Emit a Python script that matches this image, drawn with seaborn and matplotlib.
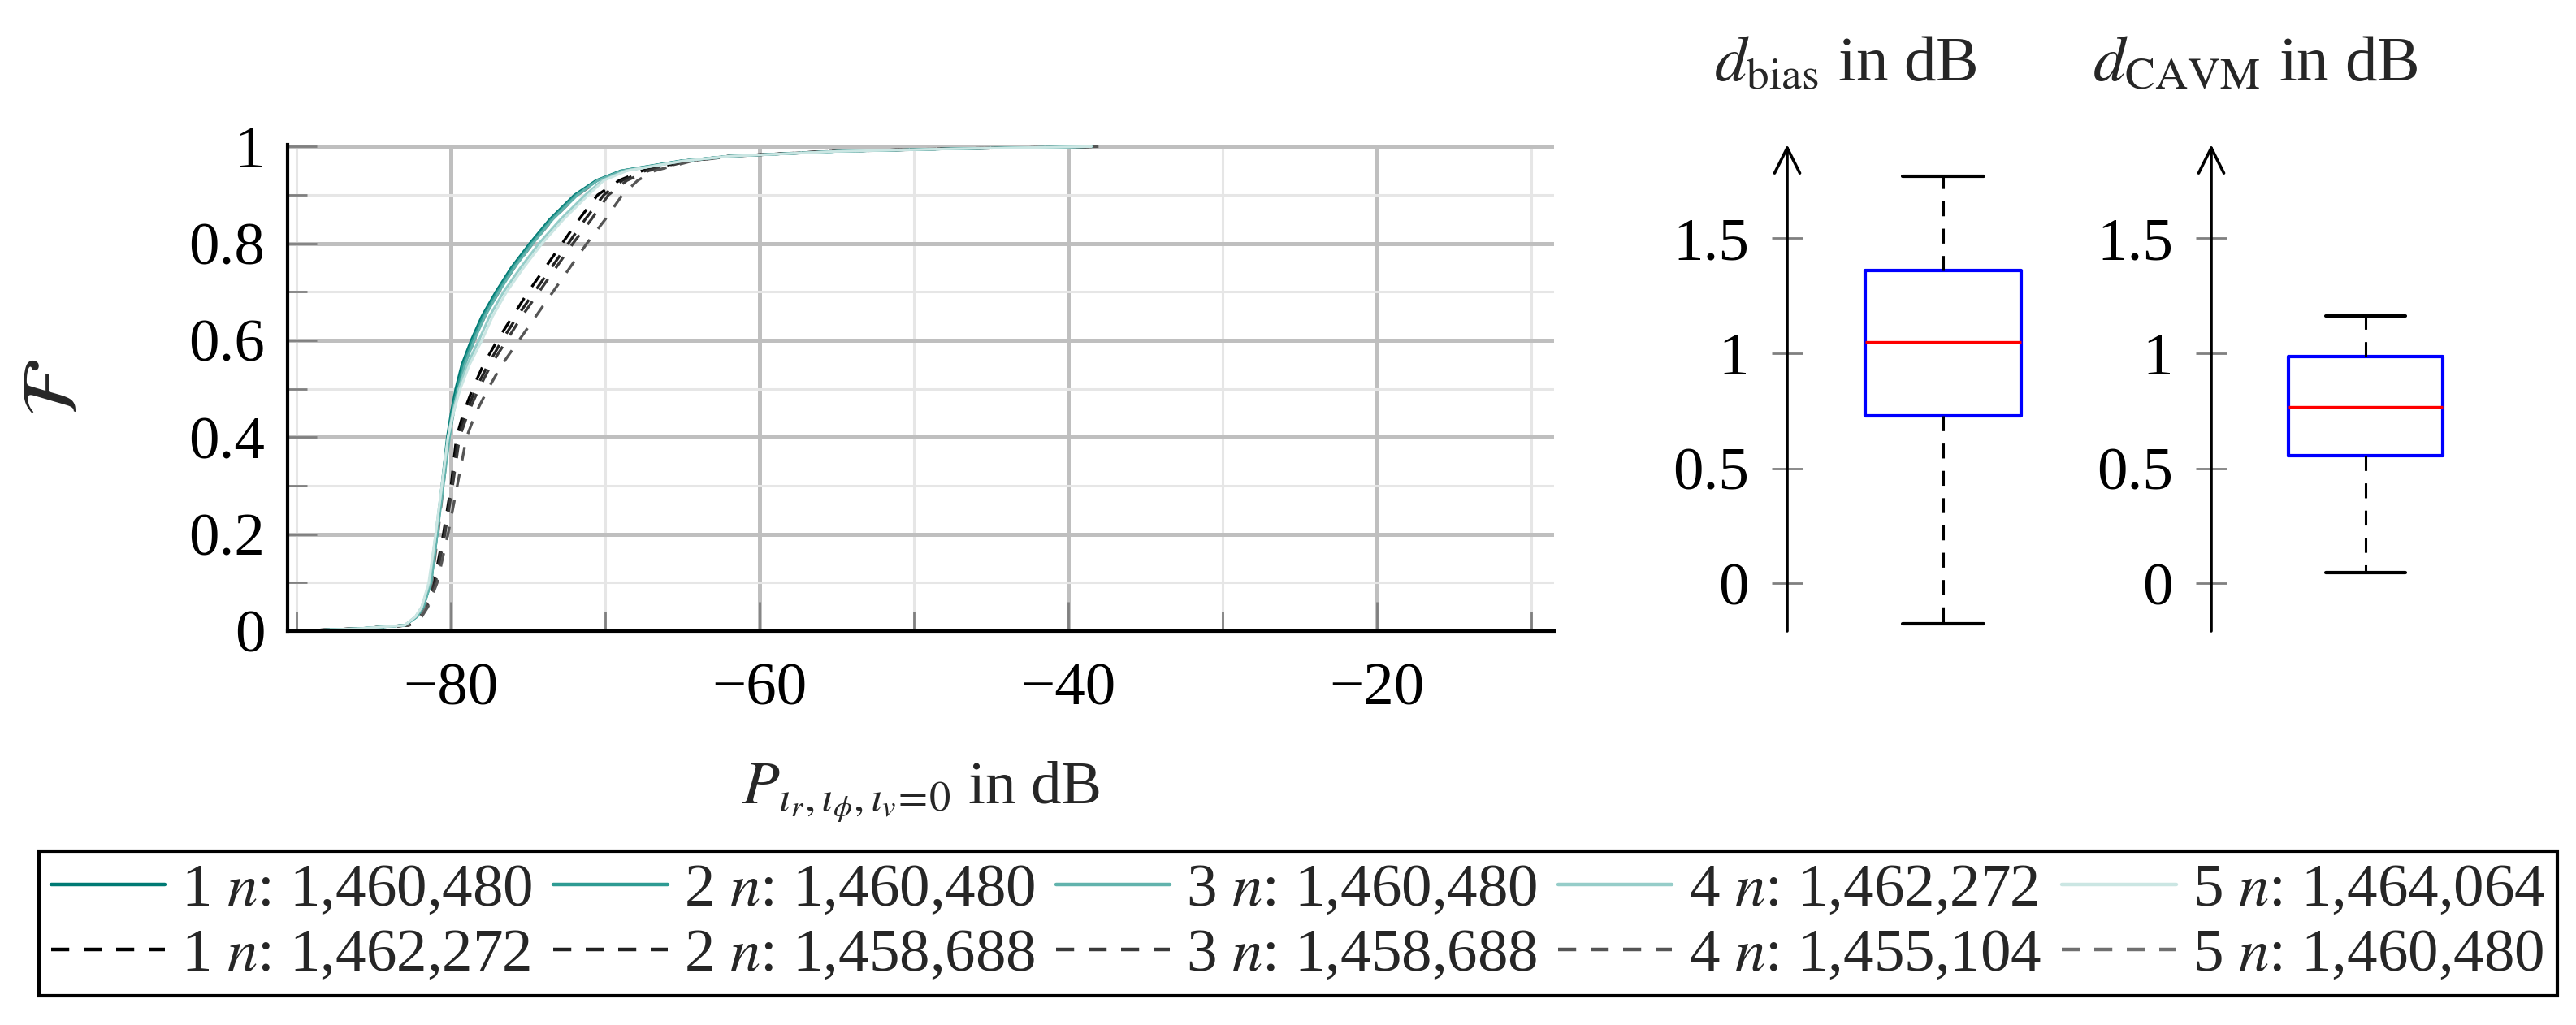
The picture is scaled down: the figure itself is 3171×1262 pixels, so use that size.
import matplotlib
matplotlib.use("Agg")
import matplotlib.pyplot as plt
from matplotlib.lines import Line2D
from matplotlib.ticker import FixedLocator, FuncFormatter
import seaborn as sns

# ─── Data ─────────────────────────────────────────────────────────────────────

# CDF levels shared by every curve
F_LEVELS = [0.0, 0.005, 0.012, 0.03, 0.05, 0.1, 0.2, 0.3, 0.4, 0.45, 0.5, 0.55, 0.6,
            0.65, 0.7, 0.75, 0.8, 0.85, 0.9, 0.93, 0.95, 0.97, 0.98, 0.99, 0.995, 1.0]

# received power (dB) at each level, solid teal runs 1..5
SOLID_1 = [-90.5, -86.0, -83.0, -82.2, -81.8, -81.35, -80.95, -80.6, -80.25, -80.0, -79.7, -79.3, -78.7,
           -78.0, -77.1, -76.1, -74.9, -73.6, -72.0, -70.6, -69.0, -65.2, -62.0, -55.0, -48.0, -38.5]
SOLID_2 = [-90.5, -86.0, -83.0, -82.2, -81.8, -81.3, -80.9, -80.55, -80.2, -79.95, -79.6, -79.2, -78.6,
           -77.9, -77.0, -76.0, -74.8, -73.5, -71.9, -70.5, -68.9, -65.1, -62.0, -55.0, -48.0, -38.5]
SOLID_3 = [-90.5, -86.0, -83.0, -82.2, -81.8, -81.3, -80.9, -80.5, -80.1, -79.85, -79.5, -79.1, -78.5,
           -77.8, -76.9, -75.9, -74.7, -73.4, -71.8, -70.5, -68.9, -65.1, -62.0, -55.0, -48.0, -38.5]
SOLID_4 = [-90.5, -86.0, -83.0, -82.3, -81.9, -81.4, -81.0, -80.6, -80.2, -79.9, -79.5, -78.95, -78.2,
           -77.5, -76.6, -75.5, -74.3, -72.9, -71.3, -70.2, -68.7, -65.0, -62.0, -55.0, -48.0, -38.5]
SOLID_5 = [-90.5, -86.0, -83.0, -82.3, -81.9, -81.45, -81.0, -80.6, -80.2, -79.85, -79.4, -78.8, -78.0,
           -77.3, -76.4, -75.3, -74.1, -72.7, -71.1, -70.1, -68.6, -65.0, -62.0, -55.0, -48.0, -38.5]

# dashed runs 1..5
DASHED_1 = [-90.5, -86.0, -82.8, -82.0, -81.6, -81.1, -80.5, -80.0, -79.65, -79.2, -78.6, -77.9, -77.0,
            -76.0, -75.0, -73.9, -72.8, -71.7, -70.5, -69.1, -67.6, -64.8, -62.0, -55.5, -48.5, -38.0]
DASHED_2 = [-90.5, -86.0, -82.8, -82.0, -81.6, -81.05, -80.45, -79.95, -79.55, -79.05, -78.4, -77.6, -76.7,
            -75.7, -74.6, -73.5, -72.4, -71.3, -70.1, -68.9, -67.4, -64.7, -62.0, -55.5, -48.5, -38.0]
DASHED_3 = [-90.5, -86.0, -82.8, -82.0, -81.55, -81.0, -80.4, -79.9, -79.45, -78.9, -78.2, -77.4, -76.4,
            -75.4, -74.3, -73.2, -72.1, -70.9, -69.8, -68.6, -67.2, -64.6, -62.0, -55.5, -48.5, -38.0]
DASHED_4 = [-90.5, -86.0, -82.7, -81.9, -81.5, -80.9, -80.2, -79.6, -79.0, -78.4, -77.6, -76.7, -75.6,
            -74.5, -73.4, -72.3, -71.2, -70.0, -68.9, -67.9, -66.8, -64.4, -61.8, -55.5, -48.5, -38.0]
DASHED_5 = [-90.5, -86.0, -83.0, -82.1, -81.7, -81.25, -80.85, -80.5, -80.15, -79.85, -79.5, -79.1, -78.5,
            -77.8, -76.9, -75.9, -74.7, -73.4, -71.8, -70.4, -68.8, -65.1, -62.0, -55.0, -48.0, -38.5]

SOLID_N = [1460480, 1460480, 1460480, 1462272, 1464064]
DASHED_N = [1462272, 1458688, 1458688, 1455104, 1460480]

SOLID_COLORS = ["#007a74", "#2e9b93", "#62b3ad", "#96cdc9", "#cbe6e3"]
DASHED_COLORS = ["#000000", "#222222", "#3a3a3a", "#555555", "#707070"]

# box-plot summaries: whisker low, q1, median, q3, whisker high
BIAS_STATS = [-0.175, 0.727, 1.05, 1.359, 1.77]
CAVM_STATS = [0.046, 0.557, 0.766, 0.9875, 1.161]

X_MAJOR = [-80, -60, -40, -20]
X_MINOR = [-90, -70, -50, -30, -10]
Y_MAJOR = [0, 0.2, 0.4, 0.6, 0.8, 1.0]
Y_MINOR = [0.1, 0.3, 0.5, 0.7, 0.9]
BOX_TICKS = [0, 0.5, 1.0, 1.5]

# ─── Style ────────────────────────────────────────────────────────────────────

sns.set_style("white")
plt.rcParams["font.family"] = ["Liberation Serif", "DejaVu Serif"]
plt.rcParams["mathtext.fontset"] = "stix"
plt.rcParams["axes.unicode_minus"] = True
FS = 27
GRAY = "#808080"

W, H = 3171, 1262
fig = plt.figure(figsize=(W / 200, H / 200), dpi=200)


def fx(px):
    return px / W


def fy(py):
    return 1 - py / H


def num(v, _=None):
    return f"{v:g}".replace("-", "\u2212")


# ─── CDF panel ────────────────────────────────────────────────────────────────

ax = fig.add_axes([fx(354), fy(777), fx(1913 - 354), (777 - 178) / H])

solids = [SOLID_1, SOLID_2, SOLID_3, SOLID_4, SOLID_5]
dashed = [DASHED_1, DASHED_2, DASHED_3, DASHED_4, DASHED_5]

for xs, c in zip(dashed, DASHED_COLORS):
    sns.lineplot(x=xs, y=F_LEVELS, ax=ax, color=c, lw=1.2, linestyle=(0, (5, 5)),
                 sort=False, estimator=None, legend=False)
for xs, c in zip(solids, SOLID_COLORS):
    sns.lineplot(x=xs, y=F_LEVELS, ax=ax, color=c, lw=1.1,
                 sort=False, estimator=None, legend=False)

ax.set_xlim(-90.6, -8.5)
ax.set_ylim(0, 1.004)
ax.xaxis.set_major_locator(FixedLocator(X_MAJOR))
ax.xaxis.set_minor_locator(FixedLocator(X_MINOR))
ax.yaxis.set_major_locator(FixedLocator(Y_MAJOR))
ax.yaxis.set_minor_locator(FixedLocator(Y_MINOR))
ax.xaxis.set_major_formatter(FuncFormatter(num))
ax.yaxis.set_major_formatter(FuncFormatter(num))

ax.set_axisbelow(True)
ax.grid(which="major", color="#bfbfbf", lw=1.8)
ax.grid(which="minor", color="#e6e6e6", lw=1.1)

for side in ["top", "right"]:
    ax.spines[side].set_visible(False)
for side in ["left", "bottom"]:
    ax.spines[side].set_color("black")
    ax.spines[side].set_linewidth(1.5)

ax.tick_params(which="major", direction="in", length=13, width=1, color=GRAY,
               labelsize=FS, labelcolor="black")
ax.tick_params(which="minor", direction="in", length=8.5, width=1, color=GRAY)
ax.tick_params(axis="y", which="both", left=True, right=False, pad=10)
ax.tick_params(axis="x", which="both", bottom=True, top=False, pad=14)

ax.set_xlabel(r"$P_{\iota_r,\iota_\phi,\iota_v\!=\!0}$ in dB", fontsize=FS, va="center")
ax.xaxis.set_label_coords(0.5, -(975 - 777) / (777 - 178))
ax.set_ylabel(r"$\mathcal{F}$", fontsize=35, va="center")
ax.yaxis.set_label_coords((71 - 354) / (1913 - 354), 0.5)

# ─── Box panels ───────────────────────────────────────────────────────────────

def box_panel(left_px, width_px, stats, title, title_x):
    bx = fig.add_axes([fx(left_px), fy(777), fx(width_px), (777 - 178) / H])
    lo, q1, med, q3, hi = stats
    bx.bxp([dict(whislo=lo, q1=q1, med=med, q3=q3, whishi=hi, fliers=[])],
           positions=[0.5], widths=0.5, capwidths=0.26, showfliers=False,
           boxprops=dict(color="#0000ff", lw=1.5),
           medianprops=dict(color="#ff0000", lw=1.2),
           whiskerprops=dict(color="black", lw=1.1, linestyle=(0, (6, 5))),
           capprops=dict(color="black", lw=1.5))
    bx.set_xlim(0, 1)
    bx.set_ylim(-0.207, 1.907)
    for s in bx.spines.values():
        s.set_visible(False)
    bx.annotate("", xy=(0, 1.907), xytext=(0, -0.207),
                arrowprops=dict(arrowstyle="->", lw=1.3, color="black",
                                mutation_scale=28, shrinkA=0, shrinkB=0),
                annotation_clip=False)
    bx.set_xticks([])
    bx.yaxis.set_major_locator(FixedLocator(BOX_TICKS))
    bx.yaxis.set_major_formatter(FuncFormatter(num))
    bx.tick_params(axis="y", direction="inout", length=14, width=1, color=GRAY,
                   labelsize=FS, labelcolor="black", pad=10, left=True)
    fig.text(fx(title_x), fy(99), title, fontsize=28.5, ha="center", va="baseline")
    return bx


box_panel(2200, 384, BIAS_STATS, r"$d_{\mathrm{bias}}$ in dB", 2272)
box_panel(2722, 380, CAVM_STATS, r"$d_{\mathrm{CAVM}}$ in dB", 2776)

# ─── Legend ───────────────────────────────────────────────────────────────────

handles, labels = [], []
for i in range(5):
    handles.append(Line2D([], [], color=SOLID_COLORS[i], lw=1.6))
    labels.append(f"{i + 1} $n$: {SOLID_N[i]:,}")
    handles.append(Line2D([], [], color=DASHED_COLORS[i], lw=1.6, linestyle=(0, (5, 4))))
    labels.append(f"{i + 1} $n$: {DASHED_N[i]:,}")

leg = fig.legend(handles, labels, ncol=5, loc="center",
                 bbox_to_anchor=(fx(1598), fy(1137)), fontsize=FS,
                 frameon=True, fancybox=False, framealpha=1, edgecolor="black",
                 handlelength=1.87, handletextpad=0.27, columnspacing=0.34,
                 borderpad=0.2, labelspacing=0.15, borderaxespad=0)
leg.get_frame().set_linewidth(1.5)

fig.savefig("out.png", dpi=200)
